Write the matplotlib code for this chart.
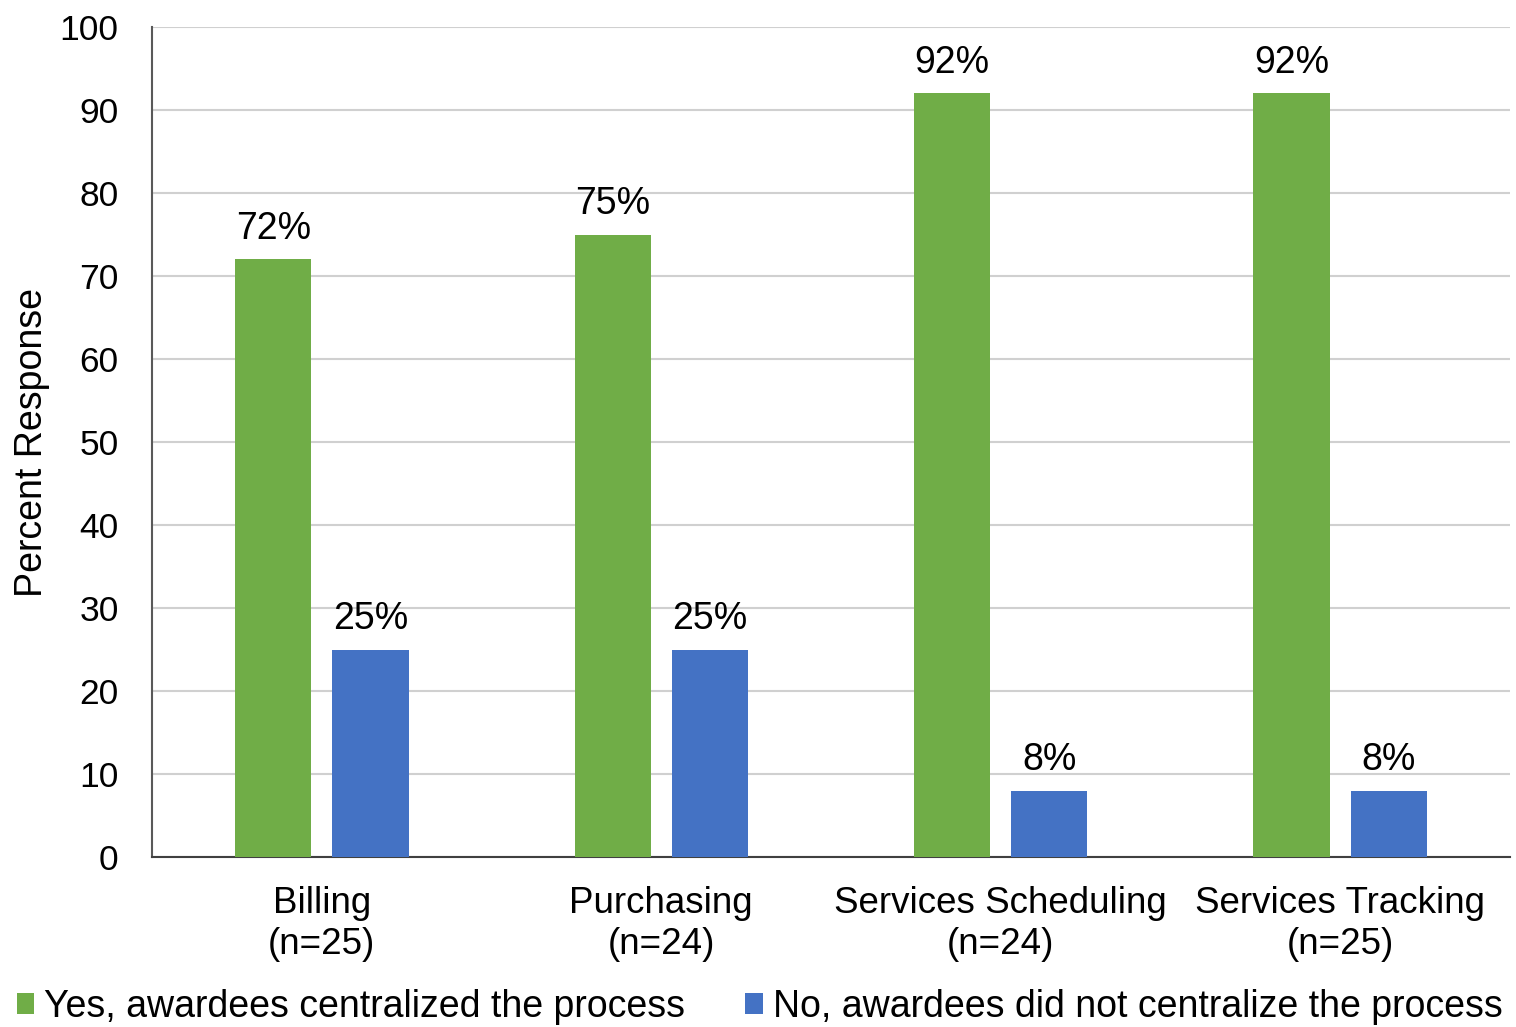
from matplotlib import pyplot as plt
import numpy as np

plt.rcParams["font.family"] = ["Liberation Sans", "DejaVu Sans"]

# Survey results per process
categories = ["Billing\n(n=25)", "Purchasing\n(n=24)",
              "Services Scheduling\n(n=24)", "Services Tracking\n(n=25)"]
yes_pct = [72, 75, 92, 92]
no_pct = [25, 25, 8, 8]
series_names = ["Yes, awardees centralized the process",
                "No, awardees did not centralize the process"]

green = "#70AD47"
blue = "#4472C4"

fig = plt.figure(figsize=(15.16, 10.27), dpi=100)
ax = fig.add_axes([0.1003, 0.1655, 0.8957, 0.8082])

x = np.arange(len(categories))
w = 0.225
b1 = ax.bar(x - 0.143, yes_pct, w, color=green, label=series_names[0], zorder=3)
b2 = ax.bar(x + 0.143, no_pct, w, color=blue, label=series_names[1], zorder=3)

# value labels above the bars
for bars, vals in [(b1, yes_pct), (b2, no_pct)]:
    for r, v in zip(bars, vals):
        ax.annotate(f"{v}%", (r.get_x() + r.get_width() / 2, v),
                    xytext=(0, 9), textcoords="offset points",
                    ha="center", va="bottom", fontsize=27)

ax.set_xlim(-0.5, 3.5)
ax.set_ylim(0, 100)
ax.set_yticks(range(0, 101, 10))
ax.set_xticks(x)
ax.set_xticklabels(categories, fontsize=26.5, linespacing=1.22)
ax.tick_params(axis="y", labelsize=25.5, length=0, pad=24)
ax.tick_params(axis="x", length=0, pad=21)
ax.set_ylabel("Percent Response", fontsize=27)
ax.yaxis.set_label_coords(-0.075, 0.5)

ax.grid(axis="y", color="#d0d0d0", linewidth=1.5, zorder=0)
for s in ["top", "right"]:
    ax.spines[s].set_visible(False)
ax.spines["left"].set_color("#595959")
ax.spines["left"].set_linewidth(1.5)
ax.spines["bottom"].set_color("#404040")
ax.spines["bottom"].set_linewidth(1.5)

fig.legend(handles=[b1, b2], loc="lower left", bbox_to_anchor=(0.011, 0.002),
           ncol=2, frameon=False, fontsize=27, handlelength=0.47,
           handleheight=0.47, handletextpad=0.27, columnspacing=1.6,
           borderpad=0, borderaxespad=0)

fig.savefig("out.png", dpi=100)
